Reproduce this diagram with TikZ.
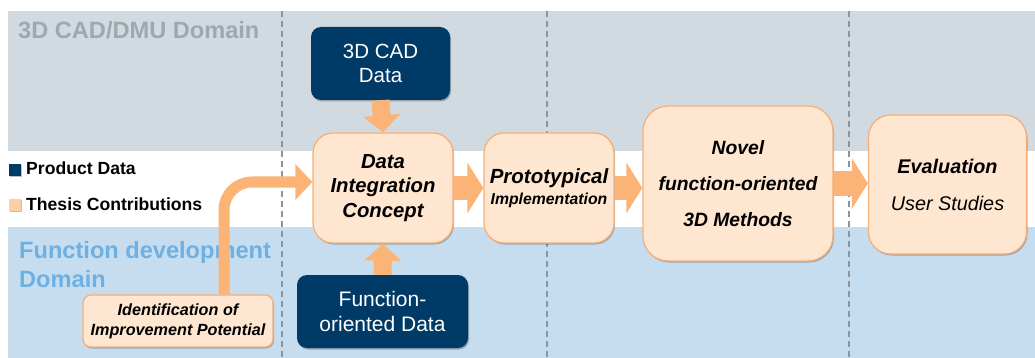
\documentclass[tikz,border=0pt]{standalone}
\usepackage{fontspec}
\setmainfont{Liberation Sans}
\usetikzlibrary{arrows.meta,shadows}
\definecolor{navy}{HTML}{003A66}
\definecolor{peach}{HTML}{FEE6D0}
\definecolor{peachsq}{HTML}{FDCFA6}
\definecolor{peachline}{HTML}{F5B07A}
\definecolor{arrowc}{HTML}{FBB476}
\definecolor{grayband}{HTML}{D1DAE0}
\definecolor{blueband}{HTML}{C6DDF0}
\definecolor{dashc}{HTML}{8C959C}
\definecolor{graytitle}{HTML}{9EA8AD}
\definecolor{bluetitle}{HTML}{6FB0E2}
\begin{document}
\begin{tikzpicture}[x=1pt,y=-1pt,
  shad/.style={drop shadow={shadow xshift=1pt,shadow yshift=-1.5pt,opacity=0.25,fill=black}},
  databox/.style={draw=none,fill=navy,text=white,rounded corners=10pt,align=center,inner sep=0pt,shad},
  contrib/.style={draw=peachline,line width=1.3pt,fill=peach,text=black,align=center,inner sep=0pt,shad},
  blockh/.style={draw=arrowc,line width=24pt,-{Triangle[width=50pt,length=16pt]}},
  blockv/.style={draw=arrowc,line width=18pt,-{Triangle[width=36pt,length=17pt]}},
  blockc/.style={draw=arrowc,line width=11pt,rounded corners=28pt,-{Triangle[width=35pt,length=17pt]}},
  divider/.style={draw=dashc,line width=1.3pt,dash pattern=on 6pt off 4pt},
  domaintitle/.style={anchor=base west,inner sep=0pt,font=\bfseries\fontsize{23.6}{23.6}\selectfont},
  legendsq/.style={minimum size=12pt,inner sep=0pt,shad},
  legendtxt/.style={anchor=base west,inner sep=0pt,font=\bfseries\fontsize{17.6}{17.6}\selectfont}
]
\useasboundingbox (0,0) rectangle (1035,358);
\fill[white] (0,0) rectangle (1035,358);
\fill[grayband] (8,11) rectangle (1035,151);
\fill[blueband] (8,227) rectangle (1035,358);
\foreach \x in {282,547,849} \draw[divider] (\x,11) -- (\x,358);

\node[domaintitle,text=graytitle] (t1) at (18,39) {3D CAD/DMU Domain};
\node[domaintitle,text=bluetitle] (t2a) at (19,258) {Function development};
\node[domaintitle,text=bluetitle] (t2b) at (19,287) {Domain};

\node[legendsq,fill=navy] (sqprod) at (14.5,170) {};
\node[legendtxt] (lprod) at (26,175) {Product Data};
\node[legendsq,fill=peachsq] (sqthes) at (14.5,204.5) {};
\node[legendtxt] (lthes) at (26,210) {Thesis Contributions};

\node[databox,minimum width=139pt,minimum height=73pt,font=\fontsize{20.5}{24}\selectfont] (cad) at (380.5,63.5) {3D CAD\\Data};
\node[contrib,minimum width=140pt,minimum height=110pt,rounded corners=20pt,font=\bfseries\itshape\fontsize{20.3}{24.5}\selectfont] (dic) at (383,188) {Data\\Integration\\Concept};
\node[contrib,minimum width=130pt,minimum height=110pt,rounded corners=20pt,font=\bfseries\itshape\fontsize{20.5}{21}\selectfont] (proto) at (549,188) {Prototypical\\{\fontsize{15.8}{21}\selectfont Implementation}};
\node[contrib,minimum width=190pt,minimum height=155pt,rounded corners=25pt,font=\bfseries\itshape\fontsize{19.3}{36}\selectfont] (novel) at (738,183.5) {Novel\\function-oriented\\3D Methods};
\node[contrib,minimum width=158pt,minimum height=139pt,rounded corners=22pt,font=\itshape\fontsize{19.8}{37}\selectfont] (eval) at (947.5,184.5) {\textbf{Evaluation}\\User Studies};
\node[databox,minimum width=171pt,minimum height=73pt,font=\fontsize{21}{25}\selectfont] (fod) at (382.5,311.5) {Function-\\oriented Data};
\node[contrib,minimum width=190pt,minimum height=52pt,rounded corners=8pt,font=\bfseries\itshape\fontsize{16.2}{20}\selectfont] (ident) at (178,321) {Identification of\\Improvement Potential};

\draw[blockh] (dic.east) -- (proto.west);
\draw[blockh] (proto.east) -- (proto.east -| novel.west);
\draw[blockh] (novel.east) -- (novel.east -| eval.west);
\draw[blockv] (cad.south) -- (dic.north);
\draw[blockv] (fod.north) -- (dic.south);
\draw[blockc] ([xshift=46pt]ident.north) |- ([yshift=6pt]dic.west);
\end{tikzpicture}
\end{document}
